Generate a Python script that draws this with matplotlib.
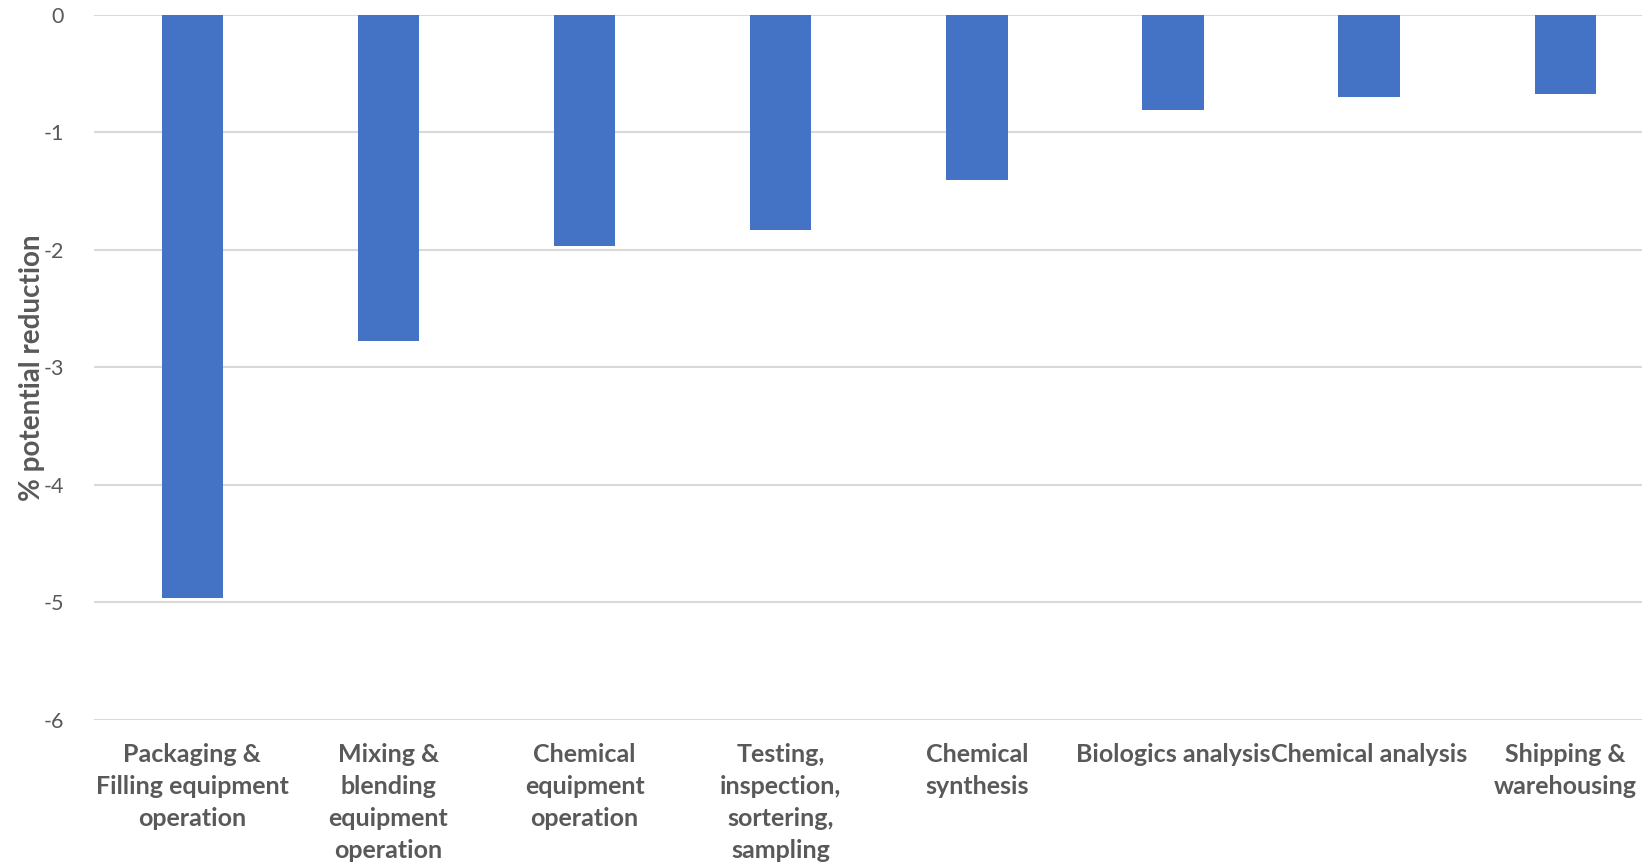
import matplotlib.pyplot as plt
import numpy as np

plt.rcParams['font.family'] = ['Lato', 'DejaVu Sans']

categories = [
    'Packaging &\nFilling equipment\noperation',
    'Mixing &\nblending\nequipment\noperation',
    'Chemical\nequipment\noperation',
    'Testing,\ninspection,\nsortering,\nsampling',
    'Chemical\nsynthesis',
    'Biologics analysis',
    'Chemical analysis',
    'Shipping &\nwarehousing',
]
reduction = [-4.96, -2.78, -1.97, -1.83, -1.41, -0.81, -0.70, -0.67]

grey = '#595959'
bar_color = '#4472C4'

fig = plt.figure(figsize=(16.42, 8.64), dpi=100)
# axes run slightly past the right edge of the canvas
ax = fig.add_axes([0.0574, 0.1669, 0.9556, 0.8160])

x = np.arange(len(categories))
ax.bar(x, reduction, width=0.3125, color=bar_color, zorder=3)

ax.set_xlim(-0.5, len(categories) - 0.5)
ax.set_ylim(-6, 0)
ax.set_yticks(np.arange(-6, 1, 1))
ax.set_yticklabels([str(v) for v in range(-6, 1)], fontsize=15.5, color=grey)
ax.grid(axis='y', color='#d9d9d9', linewidth=1.5, zorder=0)
ax.set_axisbelow(True)

for s in ax.spines.values():
    s.set_visible(False)
ax.tick_params(axis='both', length=0)
ax.tick_params(axis='y', pad=22)

ax.set_xticks(x)
ax.set_xticklabels(categories, fontsize=18, fontweight='bold', color=grey,
                   linespacing=1.47, va='top')
ax.tick_params(axis='x', pad=17)

ax.set_ylabel('% potential reduction', fontsize=20, fontweight='bold', color=grey)
ax.yaxis.set_label_coords(-0.0317, 0.5)

fig.savefig('out.png', dpi=100)
